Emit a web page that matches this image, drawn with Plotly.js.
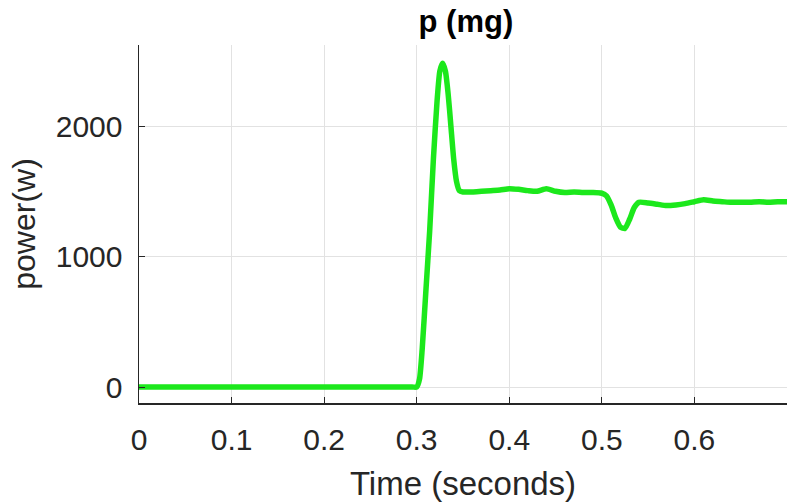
<!DOCTYPE html>
<html>
<head>
<meta charset="utf-8">
<script src="https://cdn.plot.ly/plotly-3.0.1.min.js"></script>
<style>html,body{margin:0;padding:0;background:#fff;}#chart{width:787px;height:503px;}</style>
</head>
<body>
<div id="chart"></div>
<script>
const timeS = [0, 0.1, 0.2, 0.295, 0.300, 0.303, 0.306, 0.310, 0.314, 0.318, 0.322, 0.325, 0.328, 0.331, 0.334, 0.337, 0.340, 0.343, 0.346, 0.350,
  0.36, 0.37, 0.38, 0.39, 0.40, 0.41, 0.42, 0.43, 0.44, 0.45, 0.46, 0.47, 0.48, 0.49, 0.50,
  0.505, 0.51, 0.515, 0.52, 0.525, 0.53, 0.535, 0.54, 0.55, 0.56, 0.57, 0.58, 0.59, 0.60,
  0.61, 0.62, 0.63, 0.64, 0.65, 0.66, 0.67, 0.68, 0.69, 0.70];
const powerW = [0, 0, 0, 0, 0, 60, 300, 750, 1200, 1750, 2200, 2430, 2490, 2430, 2250, 2000, 1750, 1580, 1510, 1500,
  1500, 1505, 1510, 1515, 1525, 1520, 1510, 1505, 1525, 1505, 1495, 1500, 1495, 1495, 1490,
  1470, 1400, 1300, 1230, 1220, 1290, 1380, 1420, 1415, 1405, 1395, 1400, 1410, 1425,
  1440, 1430, 1425, 1420, 1420, 1420, 1425, 1420, 1425, 1425];
const xTicks = [0, 0.1, 0.2, 0.3, 0.4, 0.5, 0.6];
const yTicks = [0, 1000, 2000];

const font = 'Liberation Sans, Arial, sans-serif';
Plotly.newPlot('chart', [{
  x: timeS, y: powerW, type: 'scatter', mode: 'lines',
  line: {color: 'rgb(28,232,28)', width: 5.5, shape: 'spline', smoothing: 0.6},
  hoverinfo: 'none'
}], {
  width: 787, height: 503,
  margin: {l: 139, r: 0, t: 45, b: 100},
  paper_bgcolor: '#fff', plot_bgcolor: '#fff',
  showlegend: false,
  title: {text: '<b>p (mg)</b>', font: {family: font, size: 31, color: '#000'}, x: 0.592, xanchor: 'center', y: 0.958, yanchor: 'middle'},
  xaxis: {
    range: [0, 0.7], tickvals: xTicks, ticktext: xTicks.map(String),
    showgrid: true, gridcolor: '#e2e2e2', gridwidth: 1,
    showline: true, linecolor: '#262626', linewidth: 1.5,
    ticks: 'inside', ticklen: 6, tickcolor: '#262626',
    tickfont: {family: font, size: 30, color: '#262626'},
    ticklabelstandoff: 9,
    zeroline: false,
    title: {text: 'Time (seconds)', font: {family: font, size: 33, color: '#262626'}, standoff: 17}
  },
  yaxis: {
    range: [-123, 2630], tickvals: yTicks, ticktext: yTicks.map(String),
    showgrid: true, gridcolor: '#e2e2e2', gridwidth: 1,
    showline: true, linecolor: '#262626', linewidth: 1.5,
    ticks: 'inside', ticklen: 6, tickcolor: '#262626',
    tickfont: {family: font, size: 30, color: '#262626'},
    ticklabelstandoff: 9,
    zeroline: false,
    title: {text: 'power(w)', font: {family: font, size: 32, color: '#262626'}, standoff: 10}
  }
}, {staticPlot: true});
</script>
</body>
</html>
